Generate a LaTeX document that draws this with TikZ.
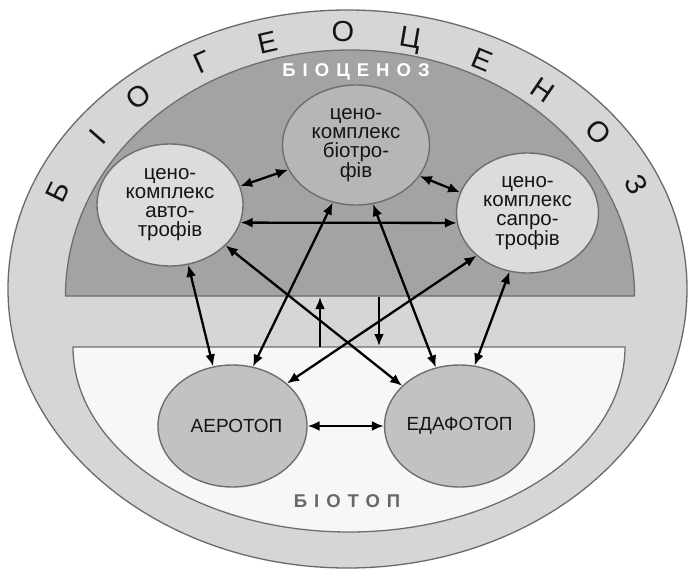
\documentclass[tikz,border=0pt]{standalone}
\usepackage{fontspec}
\setmainfont{Liberation Sans}
\usetikzlibrary{arrows.meta,shapes.geometric}
\definecolor{ringc}{HTML}{D6D6D6}
\definecolor{ringedge}{HTML}{6A6A6A}
\definecolor{bioc}{HTML}{A3A3A3}
\definecolor{biotopc}{HTML}{F7F7F7}
\definecolor{edgec}{HTML}{6E6E6E}
\definecolor{lightc}{HTML}{DCDCDC}
\definecolor{midc}{HTML}{B6B6B6}
\definecolor{topc}{HTML}{C2C2C2}
\definecolor{textc}{HTML}{151515}
\definecolor{labgray}{HTML}{686868}
\begin{document}
\begin{tikzpicture}[x=1pt,y=-1pt,
  blob/.style={ellipse, draw=edgec, line width=1.4pt, inner sep=0pt,
    minimum width=146pt, minimum height=122pt, align=center, text=textc,
    font=\fontsize{20.5}{19}\selectfont},
  link/.style={line width=2.3pt, {Latex[length=12pt,width=10pt]}-{Latex[length=12pt,width=10pt]}},
  oneway/.style={line width=2.3pt, -{Latex[length=12pt,width=10pt]}},
  ringletter/.style={font=\fontsize{29}{29}\selectfont, text=textc, inner sep=0pt},
  zonelabel/.style={font=\fontsize{18.5}{18.5}\selectfont\bfseries\addfontfeature{LetterSpace=38}, inner sep=0pt},
]
\useasboundingbox (0,0) rectangle (688,572);
\fill[white] (0,0) rectangle (688,572);
% outer ring
\draw[fill=ringc, draw=ringedge, line width=1.3pt] (347.5,289) ellipse [x radius=339.5, y radius=279];
% biocenosis half
\draw[fill=bioc, draw=edgec, line width=1.3pt] (65.5,296) arc[start angle=180, end angle=360, x radius=284.5, y radius=246] -- cycle;
% biotop half
\draw[fill=biotopc, draw=edgec, line width=1.3pt] (73,347) arc[start angle=180, end angle=0, x radius=276, y radius=185] -- cycle;

% ring letters
\node[ringletter, rotate=63.9] (r1) at (58,192) {Б};
\node[ringletter, rotate=48.7] (r2) at (98,137) {І};
\node[ringletter, rotate=37.2] (r3) at (138,97) {О};
\node[ringletter, rotate=24] (r4) at (203,62) {Г};
\node[ringletter, rotate=12.8] (r5) at (268,43) {Е};
\node[ringletter, rotate=0] (r6) at (343,32) {О};
\node[ringletter, rotate=-9.8] (r7) at (410,40) {Ц};
\node[ringletter, rotate=-22.2] (r8) at (482,60) {Е};
\node[ringletter, rotate=-34.2] (r9) at (543,90) {Н};
\node[ringletter, rotate=-47.8] (r10) at (598,132) {О};
\node[ringletter, rotate=-62.2] (r11) at (636,185) {З};

% zone labels
\node[zonelabel, text=white] (biocen) at (356,72) {БІОЦЕНОЗ};
\node[zonelabel, text=labgray] (biotop) at (347,501) {БІОТОП};

% nodes
\node[blob, fill=lightc] (auto) at (170,205) {цено-\\комплекс\\авто-\\трофів};
\node[blob, fill=midc, minimum width=147pt, minimum height=120pt] (bio) at (356,145) {цено-\\комплекс\\біотро-\\фів};
\node[blob, fill=lightc, minimum width=142pt, minimum height=120pt] (sapro) at (527.5,213) {цено-\\комплекс\\сапро-\\трофів};
\node[blob, fill=topc, minimum width=149pt, font=\fontsize{19}{19}\selectfont] (aero) at (232.5,426) {\hspace*{8pt}АЕРОТОП};
\node[blob, fill=topc, minimum width=147pt, font=\fontsize{19}{19}\selectfont] (edaf) at (459.5,426) {ЕДАФОТОП};

% connectors
\draw[link] (auto.15) -- (bio.200);
\draw[link] (bio.-26) -- (sapro.163);
\draw[link] (auto.-14.5) -- (sapro.-172);
\draw[link] (auto.-36) -- (edaf.145);
\draw[link] (sapro.-140) -- (aero.38);
\draw[link] (bio.-112) -- (aero.71);
\draw[link] (bio.-74) -- (edaf.112.5);
\draw[link] (auto.-73) -- (aero.108.5);
\draw[link] (sapro.-107.5) -- (edaf.76);
\draw[link] (aero.east) -- (edaf.west);

% exchange arrows between biocenosis and biotop
\coordinate (upfoot) at (320,347);
\coordinate (uptip) at (320,297);
\coordinate (dnfoot) at (379,297);
\coordinate (dntip) at (379,346);
\draw[oneway] (upfoot) -- (uptip);
\draw[oneway] (dnfoot) -- (dntip);
\end{tikzpicture}
\end{document}
